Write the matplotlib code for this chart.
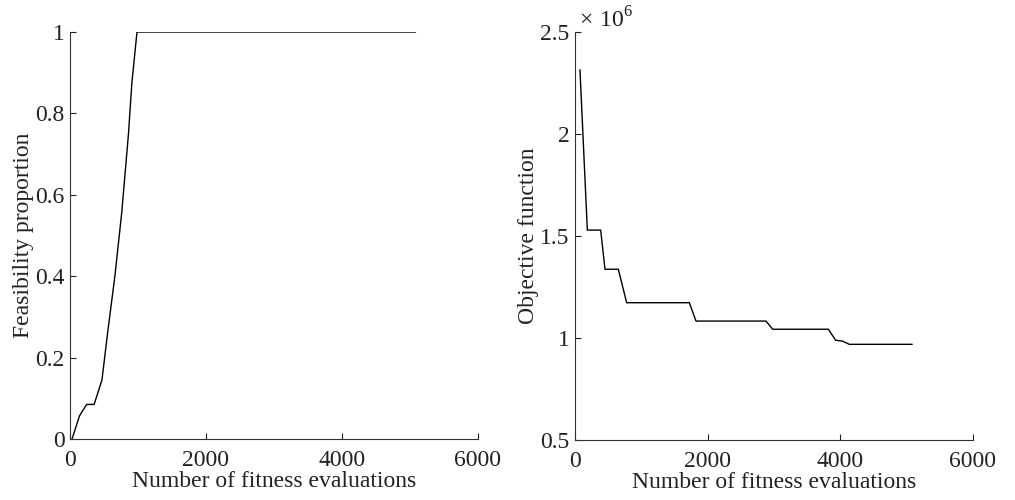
import matplotlib
matplotlib.use("Agg")
import matplotlib.pyplot as plt

plt.rcParams['font.family'] = ['Liberation Serif', 'DejaVu Serif']
plt.rcParams['mathtext.fontset'] = 'custom'
plt.rcParams['mathtext.rm'] = 'Liberation Serif'

# feasibility proportion vs evaluations
feas_x = [30, 140, 245, 355, 470, 560, 660, 760, 860, 910, 985, 5080]
feas_y = [0, 0.057, 0.085, 0.085, 0.145, 0.27, 0.40, 0.555, 0.75, 0.875, 1.0, 1.0]

# best objective vs evaluations (in units of 1e6)
obj_x = [75, 186, 387, 452, 653, 779, 1724, 1824, 2879, 2980, 3819, 3930, 4030, 4136, 5080]
obj_y = [2.314, 1.529, 1.529, 1.337, 1.337, 1.173, 1.173, 1.083, 1.083, 1.043, 1.043, 0.989, 0.985, 0.969, 0.969]

x_ticks = [0, 2000, 4000, 6000]
feas_ticks = [0, 0.2, 0.4, 0.6, 0.8, 1]
feas_labels = ['0', '0.2', '0.4', '0.6', '0.8', '1']
obj_ticks = [0.5, 1, 1.5, 2, 2.5]
obj_labels = ['0.5', '1', '1.5', '2', '2.5']

fs = 17
fig = plt.figure(figsize=(10.15, 5.0), dpi=100)
ax1 = fig.add_axes([70 / 1015, 61 / 500, 408 / 1015, 407 / 500])
ax2 = fig.add_axes([575 / 1015, 60 / 500, 398 / 1015, 408 / 500])

for ax in (ax1, ax2):
    ax.spines['top'].set_visible(False)
    ax.spines['right'].set_visible(False)
    for s in ('left', 'bottom'):
        ax.spines[s].set_linewidth(0.8)
        ax.spines[s].set_color('#333333')
    ax.tick_params(direction='in', length=4, width=0.8, labelsize=fs, colors='#222222')
    ax.tick_params(axis='x', pad=8)
    ax.tick_params(axis='y', pad=4)
    ax.set_xlim(0, 6000)
    ax.set_xticks(x_ticks)
    ax.set_xticklabels([str(t) for t in x_ticks])
    ax.set_xlabel('Number of fitness evaluations', fontsize=fs, color='#222222', labelpad=0)

ax1.plot(feas_x, feas_y, color='black', linewidth=1.0)
ax1.set_ylim(0, 1)
ax1.set_yticks(feas_ticks)
ax1.set_yticklabels(feas_labels)
ax1.set_ylabel('Feasibility proportion', fontsize=fs, color='#222222', labelpad=1)

ax2.plot(obj_x, obj_y, color='black', linewidth=1.0)
ax2.set_ylim(0.5, 2.5)
ax2.set_yticks(obj_ticks)
ax2.set_yticklabels(obj_labels)
ax2.set_ylabel('Objective function', fontsize=fs, color='#222222', labelpad=1)
ax2.text(0.01, 1.0, r'$\times\ 10^{6}$', transform=ax2.transAxes, fontsize=fs,
         color='#222222', ha='left', va='bottom')

fig.savefig('out.png', dpi=100)
